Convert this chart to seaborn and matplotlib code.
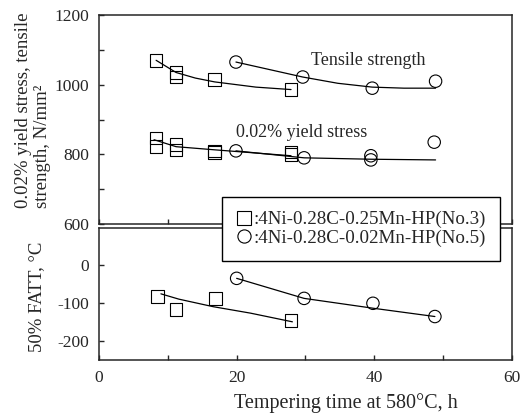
import matplotlib
matplotlib.use("Agg")
import matplotlib.pyplot as plt
from matplotlib.lines import Line2D
from matplotlib.ticker import MultipleLocator
import seaborn as sns

# measured points, No.3 steel (squares)
sq_ts_x = [8.3, 11.2, 11.2, 16.8, 27.9]
sq_ts = [1070, 1035, 1022, 1015, 986]
sq_ys_x = [8.3, 8.3, 11.2, 11.2, 16.8, 16.8, 27.9, 27.9]
sq_ys = [847, 823, 828, 813, 810, 805, 806, 800]
sq_fatt_x = [8.5, 11.2, 16.9, 27.9]
sq_fatt = [-82, -116, -87, -146]

# measured points, No.5 steel (circles)
ci_ts_x = [19.9, 29.6, 39.7, 48.9]
ci_ts = [1065, 1022, 990, 1010]
ci_ys_x = [19.9, 29.8, 39.5, 39.5, 48.7]
ci_ys = [810, 790, 796, 784, 835]
ci_fatt_x = [20, 29.8, 39.8, 48.8]
ci_fatt = [-34, -87, -100, -135]

# hand drawn trend curves
fit_sq_ts_x = [8.3, 11.2, 14, 16.8, 22.8, 27.9]
fit_sq_ts = [1070, 1035, 1019, 1008, 993, 986]
fit_ci_ts_x = [19.9, 29.6, 34.7, 39.7, 44.3, 48.9]
fit_ci_ts = [1065, 1022, 1004, 993, 990, 990]
fit_sq_ys_x = [8.0, 11.2, 16.8, 27.9]
fit_sq_ys = [842, 822, 813, 796]
fit_ci_ys_x = [19.9, 29.8, 39.5, 48.9]
fit_ci_ys = [810, 790, 786, 784]
fit_sq_fatt_x = [9.0, 11.6, 16.6, 22, 28.1]
fit_sq_fatt = [-75, -89, -109, -126, -149]
fit_ci_fatt_x = [20, 29.8, 39.8, 48.8]
fit_ci_fatt = [-34, -87, -113, -135]

labels = [":4Ni-0.28C-0.25Mn-HP(No.3)", ":4Ni-0.28C-0.02Mn-HP(No.5)"]

sns.set_style("ticks")
plt.rcParams["font.family"] = ["Liberation Serif", "DejaVu Serif"]
plt.rcParams["font.size"] = 12.5
plt.rcParams["axes.unicode_minus"] = False

fig = plt.figure(figsize=(5.31, 4.16), dpi=100)
ax1 = fig.add_axes([0.1864, 0.4615, 0.7778, 0.5024])
ax2 = fig.add_axes([0.1864, 0.1346, 0.7778, 0.3181])

mk = dict(color="black", facecolor="none", edgecolor="black", s=80, linewidth=0.8, zorder=3)
ln = dict(color="black", linewidth=0.9, sort=False, estimator=None)

# top panel: strength
sns.lineplot(x=fit_sq_ts_x, y=fit_sq_ts, ax=ax1, **ln)
sns.lineplot(x=fit_ci_ts_x, y=fit_ci_ts, ax=ax1, **ln)
sns.lineplot(x=fit_sq_ys_x, y=fit_sq_ys, ax=ax1, **ln)
sns.lineplot(x=fit_ci_ys_x, y=fit_ci_ys, ax=ax1, **ln)
sns.scatterplot(x=sq_ts_x, y=sq_ts, marker="s", ax=ax1, **mk)
sns.scatterplot(x=sq_ys_x, y=sq_ys, marker="s", ax=ax1, **mk)
sns.scatterplot(x=ci_ts_x, y=ci_ts, marker="o", ax=ax1, **mk)
sns.scatterplot(x=ci_ys_x, y=ci_ys, marker="o", ax=ax1, **mk)
ax1.text(39.1, 1068, "Tensile strength", ha="center", va="center", fontsize=13)
ax1.text(29.5, 863, "0.02% yield stress", ha="center", va="center", fontsize=13)

# bottom panel: FATT
sns.lineplot(x=fit_sq_fatt_x, y=fit_sq_fatt, ax=ax2, **ln)
sns.lineplot(x=fit_ci_fatt_x, y=fit_ci_fatt, ax=ax2, **ln)
sns.scatterplot(x=sq_fatt_x, y=sq_fatt, marker="s", ax=ax2, **mk)
sns.scatterplot(x=ci_fatt_x, y=ci_fatt, marker="o", ax=ax2, **mk)

ax1.set_xlim(0, 60)
ax1.set_ylim(600, 1200)
ax2.set_xlim(0, 60)
ax2.set_ylim(-250, 100)

for ax in (ax1, ax2):
    ax.xaxis.set_major_locator(MultipleLocator(20))
    ax.xaxis.set_minor_locator(MultipleLocator(10))
    ax.tick_params(which="both", direction="in", length=3.5, width=1, pad=7, labelsize=12.5)
    for s in ax.spines.values():
        s.set_linewidth(1.1)
ax1.yaxis.set_major_locator(MultipleLocator(200))
ax1.yaxis.set_minor_locator(MultipleLocator(100))
ax1.tick_params(axis="x", labelbottom=False)
ax2.set_yticks([0, -100, -200])

fig.text(33 / 531, 1 - 110 / 416, "0.02% yield stress, tensile\nstrength, N/mm\u00b2",
         rotation=90, ha="center", va="center", multialignment="left", fontsize=13.5,
         linespacing=1.1)
fig.text(36.7 / 531, 1 - 296.7 / 416, "50% FATT, \u00b0C", rotation=90, ha="center", va="center",
         fontsize=13.5)
fig.text(346 / 531, 1 - 403 / 416, "Tempering time at 580\u00b0C, h", ha="center", va="center",
         fontsize=14.5)

handles = [
    Line2D([], [], marker="s", ls="", mfc="none", mec="black", ms=9.5, mew=0.8),
    Line2D([], [], marker="o", ls="", mfc="none", mec="black", ms=9.5, mew=0.8),
]
fig.legend(handles, labels, loc="upper left", bbox_to_anchor=(221.7 / 531, 1 - 196.7 / 416),
           frameon=True, fancybox=False, edgecolor="black", framealpha=1, fontsize=13.7,
           handlelength=0.8, handletextpad=0.1, borderpad=0.75, labelspacing=0.05,
           borderaxespad=0)
fig.legends[0].get_frame().set_linewidth(1.0)

fig.savefig("out.png", dpi=100)
